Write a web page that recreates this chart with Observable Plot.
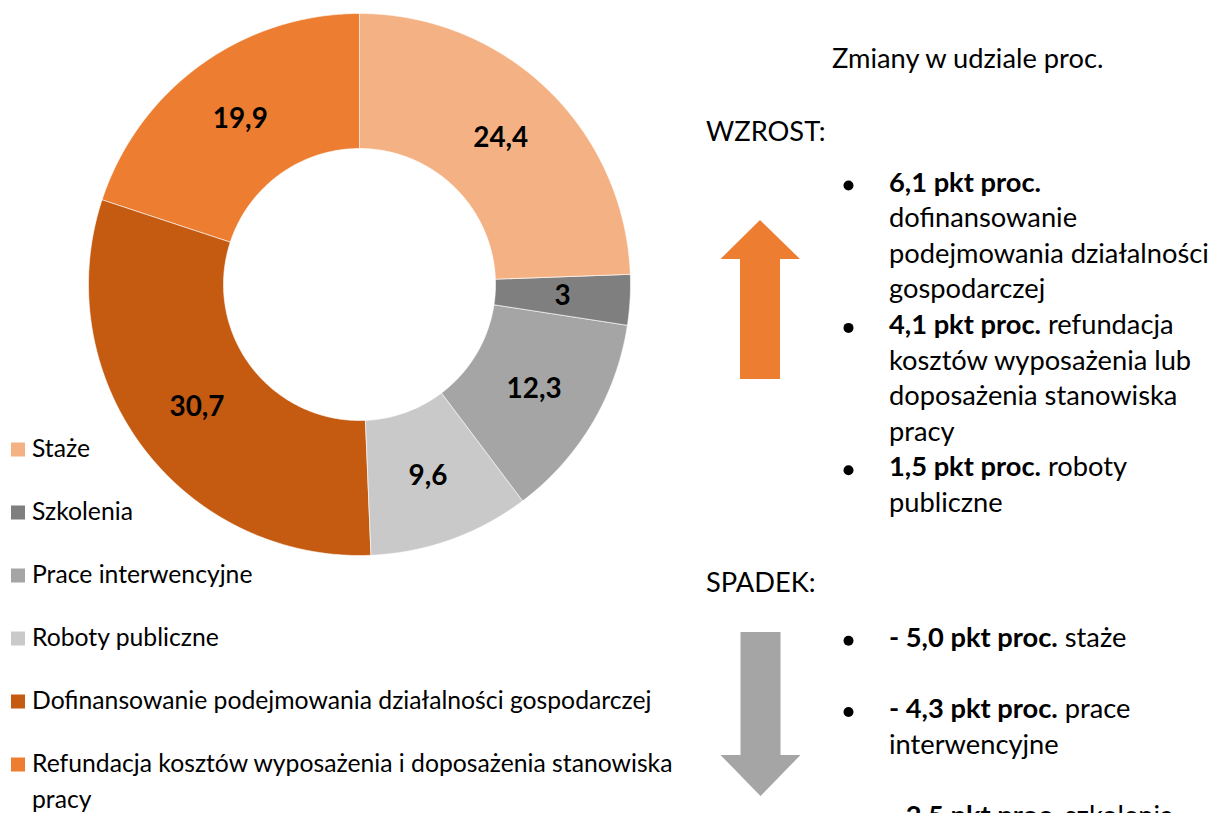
<!DOCTYPE html>
<html><head><meta charset="utf-8">
<script src="https://cdn.jsdelivr.net/npm/d3@7"></script>
<script src="https://cdn.jsdelivr.net/npm/@observablehq/plot@0.6"></script>
<style>
html,body{margin:0;padding:0;background:#fff;}
#page{position:relative;width:1225px;height:813px;overflow:hidden;font-family:Lato,"Open Sans",sans-serif;color:#000;}
#chart{position:absolute;left:87px;top:12px;}
#overlay{position:absolute;left:0;top:0;}
</style></head><body><div id="page"><div id="chart"></div></div>
<script>
// ---- data ----
const categories = [
  "Staże",
  "Szkolenia",
  "Prace interwencyjne",
  "Roboty publiczne",
  "Dofinansowanie podejmowania działalności gospodarczej",
  "Refundacja kosztów wyposażenia i doposażenia stanowiska pracy"
];
const shares = [24.4, 3, 12.3, 9.6, 30.7, 19.9];
const colors = ["#F4B183", "#7F7F7F", "#A5A5A5", "#C9C9C9", "#C55A11", "#ED7D31"];
const legendLines = [
  ["Staże"],
  ["Szkolenia"],
  ["Prace interwencyjne"],
  ["Roboty publiczne"],
  ["Dofinansowanie podejmowania działalności gospodarczej"],
  ["Refundacja kosztów wyposażenia i doposażenia stanowiska", "pracy"]
];
const panelTitle = "Zmiany w udziale proc.";
const increaseHeading = "WZROST:";
const decreaseHeading = "SPADEK:";
const increaseBold = ["6,1 pkt proc.", "4,1 pkt proc.", "1,5 pkt proc."];
const increaseLines = [
  ["", "dofinansowanie", "podejmowania działalności", "gospodarczej"],
  [" refundacja", "kosztów wyposażenia lub", "doposażenia stanowiska", "pracy"],
  [" roboty", "publiczne"]
];
const decreaseBold = ["- 5,0 pkt proc.", "- 4,3 pkt proc.", "- 2,5 pkt proc."];
const decreaseLines = [
  [" staże"],
  [" prace", "interwencyjne"],
  [" szkolenia"]
];

// ---- font fitting (Calibri substitute) ----
const ctx = document.createElement("canvas").getContext("2d");
function fit(text, weight, base, target) {
  ctx.font = `${weight} ${base}px Lato`;
  return base * target / ctx.measureText(text).width;
}
const legendFs = fit("podejmowania działalności", "normal", 24, 290);
const panelFs = fit("podejmowania działalności", "normal", 26, 320);
const labelFs = fit("24,4", "bold", 28, 55);

// ---- donut via Plot ----
const R = 271, r0 = 136, half = 272;
const data = categories.map((name, i) => ({name, share: shares[i]}));
const arcs = d3.pie().sort(null).value(d => d.share)(data);
const pts = [];
for (const a of arcs) {
  const n = Math.max(2, Math.ceil((a.endAngle - a.startAngle) / (Math.PI / 360)));
  for (let k = 0; k <= n; k++) {
    const t = a.startAngle + (a.endAngle - a.startAngle) * k / n;
    pts.push({name: a.data.name, x: R * Math.sin(t), y: R * Math.cos(t)});
  }
  for (let k = n; k >= 0; k--) {
    const t = a.startAngle + (a.endAngle - a.startAngle) * k / n;
    pts.push({name: a.data.name, x: r0 * Math.sin(t), y: r0 * Math.cos(t)});
  }
}
const rm = (R + r0) / 2;
const labels = arcs.map(a => {
  const m = (a.startAngle + a.endAngle) / 2;
  return {x: rm * Math.sin(m), y: rm * Math.cos(m), text: String(a.data.share).replace(".", ",")};
});

const plot = Plot.plot({
  width: 2 * half,
  height: 2 * half,
  margin: 0,
  x: {domain: [-half, half], axis: null},
  y: {domain: [-half, half], axis: null},
  color: {domain: categories, range: colors},
  style: {fontFamily: "Lato, sans-serif", background: "transparent"},
  marks: [
    Plot.line(pts, {x: "x", y: "y", z: "name", fill: "name", stroke: "white", strokeWidth: 0.6, curve: "linear-closed"}),
    Plot.text(labels, {x: "x", y: "y", text: "text", fontSize: labelFs, fontWeight: "bold", fill: "black", fontFamily: "Lato, sans-serif"})
  ]
});
document.getElementById("chart").appendChild(plot);

// ---- legend, panel text, arrows ----
const svg = d3.select("#page").append("svg")
  .attr("id", "overlay").attr("width", 1225).attr("height", 813)
  .style("font-family", "Lato, sans-serif");

const legBase0 = 457, legStep = 63, legLine = 36;
legendLines.forEach((lines, i) => {
  const b = legBase0 + i * legStep;
  svg.append("rect").attr("x", 11).attr("y", b - 14.5).attr("width", 14).attr("height", 14).attr("fill", colors[i]);
  lines.forEach((ln, j) => {
    svg.append("text").attr("x", 32).attr("y", b + j * legLine).attr("font-size", legendFs).attr("fill", "#000").text(ln);
  });
});

svg.append("text").attr("x", 832).attr("y", 68).attr("font-size", panelFs).text(panelTitle);
svg.append("text").attr("x", 706).attr("y", 141).attr("font-size", panelFs).text(increaseHeading);
svg.append("text").attr("x", 706).attr("y", 592).attr("font-size", panelFs).text(decreaseHeading);

const step = 35.6;
function bullets(bolds, lines, base0, gap) {
  let b = base0;
  bolds.forEach((bd, i) => {
    svg.append("circle").attr("cx", 848.5).attr("cy", b - 6).attr("r", 5).attr("fill", "#000");
    lines[i].forEach((ln, j) => {
      const t = svg.append("text").attr("x", 889).attr("y", b).attr("font-size", panelFs).attr("fill", "#000");
      if (j === 0) {
        t.append("tspan").attr("font-weight", "bold").text(bd);
        if (ln) t.append("tspan").text(ln).attr("xml:space", "preserve");
      } else {
        t.text(ln);
      }
      t.style("white-space", "pre");
      b += step;
    });
    b += gap * step;
  });
}
bullets(increaseBold, increaseLines, 191.5, 0);
bullets(decreaseBold, decreaseLines, 646.8, 1);

// arrows
svg.append("polygon").attr("fill", "#ED7D31")
  .attr("points", [[760,220],[800,259],[780,259],[780,379],[740,379],[740,259],[720.5,259]].map(p => p.join(",")).join(" "));
svg.append("polygon").attr("fill", "#A5A5A5")
  .attr("points", [[740.5,632],[780.5,632],[780.5,755],[800.5,755],[760.5,796],[720.5,755],[740.5,755]].map(p => p.join(",")).join(" "));
</script>
</body></html>
